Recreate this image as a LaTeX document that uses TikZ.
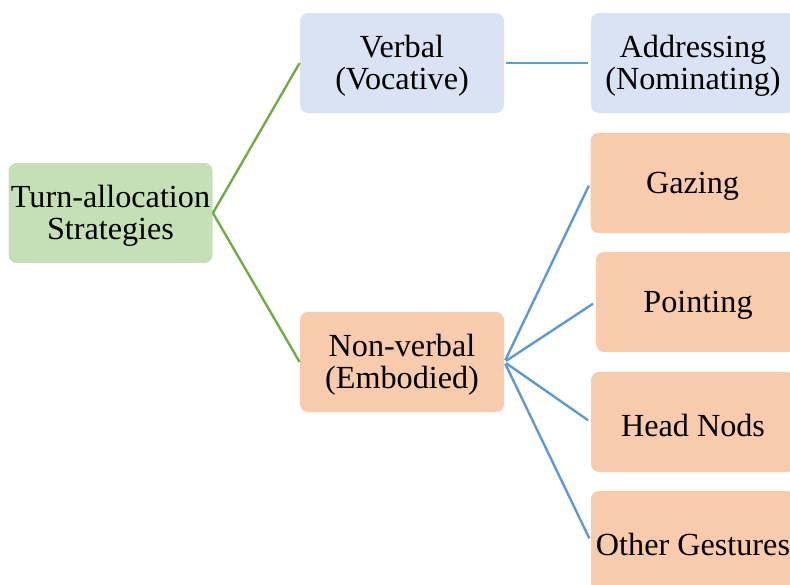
\documentclass[tikz,border=0pt]{standalone}
\usepackage{fontspec}
\setmainfont{Liberation Serif}
\definecolor{gfill}{HTML}{C5E0B4}
\definecolor{bfill}{HTML}{DAE3F3}
\definecolor{ofill}{HTML}{F8CBAD}
\definecolor{gline}{HTML}{70AD47}
\definecolor{bline}{HTML}{5B9BD5}
\tikzset{
  box/.style={rounded corners=4pt, minimum width=102pt, minimum height=50pt, inner sep=0pt},
  lbl/.style={align=center, inner sep=0pt, yshift=-1.5pt, font=\fontsize{16.1}{16.2}\selectfont},
  gbox/.style={box, fill=gfill},
  bbox/.style={box, fill=bfill},
  obox/.style={box, fill=ofill},
  gconn/.style={draw=gline, line width=1.2pt},
  bconn/.style={draw=bline, line width=1.2pt, shorten <=1pt, shorten >=1.5pt},
}
\begin{document}
\begin{tikzpicture}[x=0.5pt,y=-0.5pt]
\path[use as bounding box, clip] (0,0) rectangle (790,584);
\node[gbox, label={[lbl]center:{Turn-allocation\\Strategies}}] (root) at (110.5,213) {};
\node[bbox, label={[lbl]center:{Verbal\\(Vocative)}}] (verbal) at (402,63) {};
\node[obox, label={[lbl]center:{Non-verbal\\(Embodied)}}] (nonverbal) at (402,362) {};
\node[bbox, label={[lbl]center:{Addressing\\(Nominating)}}] (address) at (693,63) {};
\node[obox, label={[lbl]center:Gazing}] (gazing) at (692.5,183) {};
\node[obox, label={[lbl]center:Pointing}] (pointing) at (698,302) {};
\node[obox, label={[lbl]center:Head Nods}] (nods) at (693,422) {};
\node[obox, label={[lbl]center:Other Gestures}] (other) at (693,541) {};
\draw[gconn] (root.east) -- (verbal.west);
\draw[gconn] (root.east) -- (nonverbal.west);
\draw[bconn] (verbal.east) -- (address.west);
\draw[bconn] (nonverbal.east) -- (gazing.west);
\draw[bconn] (nonverbal.east) -- (pointing.west);
\draw[bconn] (nonverbal.east) -- (nods.west);
\draw[bconn] (nonverbal.east) -- (other.west);
\end{tikzpicture}
\end{document}
